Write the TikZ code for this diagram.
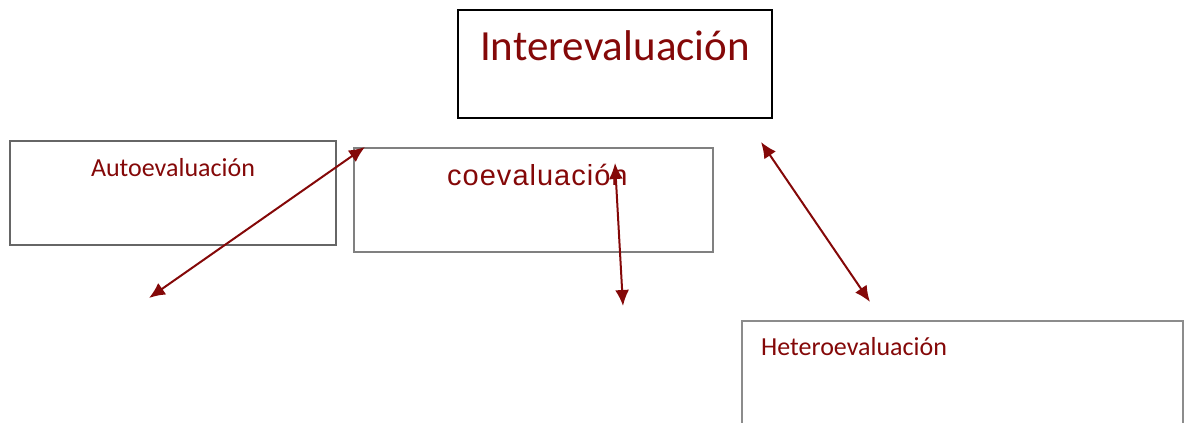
\documentclass[tikz,border=0pt]{standalone}
\usepackage{fontspec}
\setmainfont{Carlito}
\newfontfamily\arialfont[LetterSpace=3.5]{Liberation Sans}
\usetikzlibrary{arrows.meta}

\definecolor{darkred}{RGB}{132,8,8}

\begin{document}
\begin{tikzpicture}[x=1pt,y=-1pt]

        \useasboundingbox (0,0) rectangle (1184,423);

        \begin{scope}[every node/.style={rectangle,draw,inner sep=0pt}]
            \node[line width=2.5pt,draw=black,minimum width=314pt,minimum height=108pt] (inter) at (615,64) {};
            \node[line width=2pt,draw=black!60,minimum width=326pt,minimum height=104pt] (auto) at (173,193) {};
            \node[line width=2pt,draw=black!50,minimum width=359pt,minimum height=104pt] (coev) at (533.5,200) {};
            \node[line width=2pt,draw=black!45,minimum width=441pt,minimum height=124pt] (hetero) at (962.5,383) {};
        \end{scope}

        \begin{scope}[every node/.style={text=darkred,inner sep=0pt}]
            \node[anchor=base] (intertxt) at (615,60) {\fontsize{43}{50}\selectfont Interevaluación};
            \node[anchor=base] (autotxt) at (173,176) {\fontsize{26}{30}\selectfont Autoevaluación};
            \node[anchor=base west] (coevtxt) at (447,185) {\arialfont\fontsize{29}{33}\selectfont coevaluación};
            \node[anchor=base west] (heterotxt) at (761,355) {\fontsize{26}{30}\selectfont Heteroevaluación};
        \end{scope}

        \coordinate (a1) at (149,298);
        \coordinate (a2) at (365,147);
        \coordinate (b1) at (615,163);
        \coordinate (b2) at (623,306);
        \coordinate (c1) at (761,142);
        \coordinate (c2) at (870,302);

        \begin{scope}[every edge/.style={draw=darkred,line width=2pt}]
            \path [{Latex[length=16pt,width=14pt]}-{Latex[length=16pt,width=14pt]}] (a1) edge (a2);
            \path [{Latex[length=16pt,width=14pt]}-{Latex[length=16pt,width=14pt]}] (b1) edge (b2);
            \path [{Latex[length=16pt,width=14pt]}-{Latex[length=16pt,width=14pt]}] (c1) edge (c2);
        \end{scope}

    \end{tikzpicture}
\end{document}
